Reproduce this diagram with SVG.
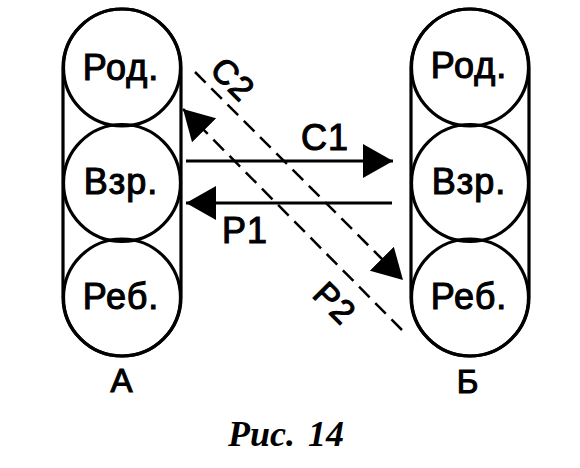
<svg xmlns="http://www.w3.org/2000/svg" width="580" height="468" viewBox="0 0 580 468">
<defs>
<style>
.cap{fill:none;stroke:#000;stroke-width:3.2}
.cir{fill:none;stroke:#000;stroke-width:3.2}
.lbl{font-family:"Liberation Sans",Arial,sans-serif;font-size:36px;fill:#000;stroke:#000;stroke-width:1.1;text-anchor:middle;letter-spacing:1px}
.sol{fill:none;stroke:#000;stroke-width:3}
.dsh{fill:none;stroke:#000;stroke-width:2.5;stroke-dasharray:15 8}
.cap-t{font-family:"Liberation Serif","Times New Roman",serif;font-style:italic;font-weight:bold;font-size:36px;fill:#000;text-anchor:middle;word-spacing:4px}
</style>
<marker id="ah" markerUnits="userSpaceOnUse" viewBox="0 0 30 34" refX="30" refY="17" markerWidth="30" markerHeight="34" orient="auto">
<path d="M0,0 L30,17 L0,34 z" fill="#000"/>
</marker>
</defs>
<rect width="580" height="468" fill="#fff"/>
<g id="A">
<rect class="cap" x="63" y="9" width="118" height="347" rx="59"/>
<g id="A-rod"><circle class="cir" cx="122" cy="67.5" r="58.5"/><text class="lbl" x="121" y="80">Род.</text></g>
<g id="A-vzr"><circle class="cir" cx="122" cy="183" r="58.5"/><text class="lbl" x="121" y="194">Взр.</text></g>
<g id="A-reb"><circle class="cir" cx="122" cy="297.5" r="58.5"/><text class="lbl" x="121" y="309">Реб.</text></g>
<text class="lbl" x="122" y="392" style="font-size:33px">А</text>
</g>
<g id="B">
<rect class="cap" x="411" y="9" width="118" height="347" rx="59"/>
<g id="B-rod"><circle class="cir" cx="470" cy="67.5" r="58.5"/><text class="lbl" x="469" y="78">Род.</text></g>
<g id="B-vzr"><circle class="cir" cx="470" cy="183" r="58.5"/><text class="lbl" x="469" y="194">Взр.</text></g>
<g id="B-reb"><circle class="cir" cx="470" cy="297.5" r="58.5"/><text class="lbl" x="469" y="309">Реб.</text></g>
<text class="lbl" x="468" y="393" style="font-size:33px">Б</text>
</g>
<g id="connectors">
<line class="sol" x1="186" y1="161" x2="393" y2="161" marker-end="url(#ah)"/>
<line class="sol" x1="392" y1="203" x2="186" y2="203" marker-end="url(#ah)"/>
<line class="dsh" x1="195" y1="72" x2="403" y2="280" marker-end="url(#ah)"/>
<line class="dsh" x1="402" y1="330" x2="183" y2="109" marker-end="url(#ah)"/>
<text class="lbl" x="325" y="150">С1</text>
<text class="lbl" x="245" y="243">Р1</text>
<text class="lbl" transform="translate(233,79) rotate(45)" x="0" y="12" style="font-size:34px">С2</text>
<text class="lbl" transform="translate(335,303) rotate(45)" x="0" y="12" style="font-size:34px">Р2</text>
</g>
<text class="cap-t" x="286" y="446">Рис. 14</text>
</svg>
